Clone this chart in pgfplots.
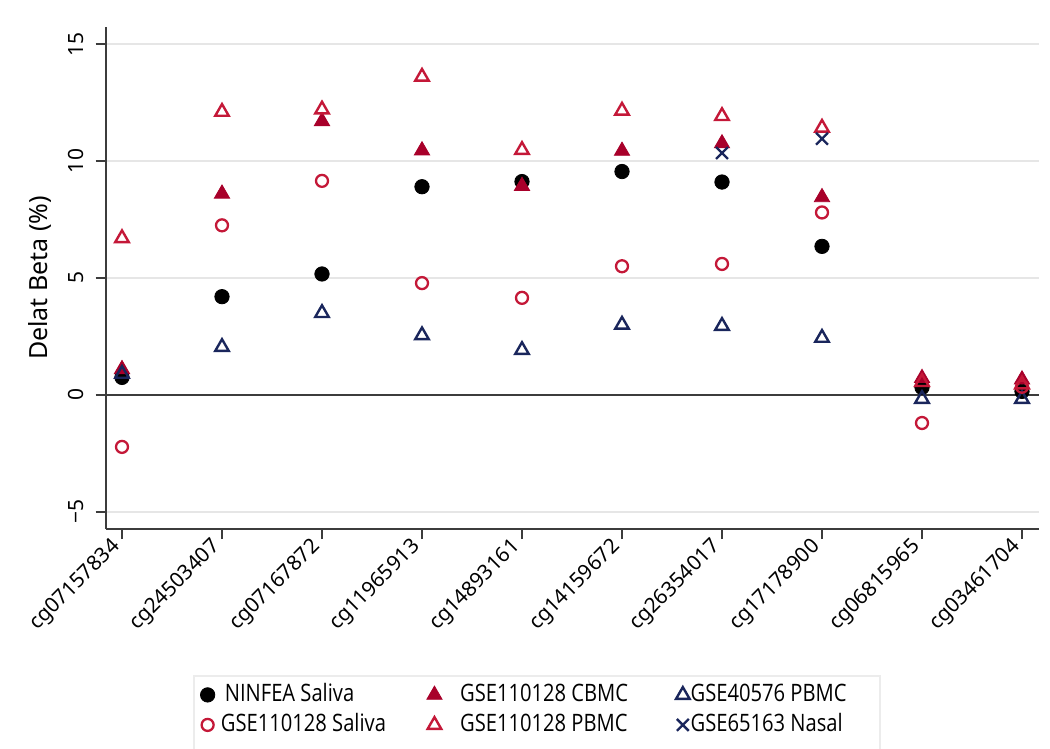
\documentclass[border=0pt]{standalone}
\usepackage{fontspec}
\setmainfont{Noto Sans}
\newfontfamily\legfont[FakeStretch=0.84]{Open Sans}
\usepackage{pgfplots}
\pgfplotsset{compat=1.18}

\definecolor{cbred}{RGB}{168,0,42}
\definecolor{olred}{RGB}{196,24,56}
\definecolor{navyb}{RGB}{26,38,92}
\definecolor{gridg}{RGB}{230,230,230}
\definecolor{axisg}{RGB}{60,60,60}
\definecolor{boxg}{RGB}{236,236,236}

\begin{document}
\begin{tikzpicture}
\begin{axis}[
  name=ax,
  scale only axis,
  width=466.45pt, height=251.15pt,
  xmin=-0.163, xmax=9.166,
  ymin=-5.73, ymax=15.74,
  axis lines*=left,
  axis line style={axisg, line width=0.9pt},
  tick align=outside,
  major tick length=5pt,
  tick style={axisg, line width=0.9pt},
  xtick={0,...,9},
  xticklabels={cg07157834,cg24503407,cg07167872,cg11965913,cg14893161,
               cg14159672,cg26354017,cg17178900,cg06815965,cg03461704},
  x tick label style={rotate=45, anchor=east, font=\fontsize{10.4}{12}\selectfont},
  ytick={-5,5,10,15},
  yticklabels={−5,5,10,15},
  extra y ticks={0},
  extra y tick labels={0},
  extra y tick style={ymajorgrids=true, grid style={axisg, line width=0.9pt}},
  y tick label style={rotate=90, anchor=south, inner ysep=6pt, font=\fontsize{10.5}{12}\selectfont},
  ymajorgrids,
  grid style={gridg, line width=0.9pt},
  ylabel={Delat Beta (\%)},
  every axis y label/.style={at={(rel axis cs:-0.0704,0.5)}, rotate=90, anchor=center,
                             font=\fontsize{12.5}{14}\selectfont},
  legend columns=3,
  legend cell align=left,
  legend style={at={(0.0947,-0.2927)}, anchor=north west, draw=none, fill=none,
                font=\legfont\fontsize{12}{14}\selectfont,
                inner xsep=3pt, inner ysep=3.7pt, row sep=3.9pt, column sep=0pt,
                nodes={inner xsep=0pt, inner ysep=0pt, text height=8.6pt, text depth=2.5pt}},
  legend image code/.code={\draw[mark repeat=2,mark phase=2,#1] plot coordinates {(0pt,0pt)(5pt,0pt)(10pt,0pt)};},
]

% NINFEA saliva
\addplot[only marks, mark=*, mark size=3.6pt, draw=black, fill=black] coordinates {
  (0,0.75) (1,4.2) (2,5.17) (3,8.9) (4,9.12) (5,9.55) (6,9.1) (7,6.35) (8,0.32) (9,0.15)};
\addlegendentry{\makebox[106pt][l]{\hspace*{5pt}NINFEA Saliva}}

% GSE110128 cord blood
\addplot[only marks, mark=triangle*, mark size=4.4pt, draw=cbred, fill=cbred] coordinates {
  (0,1.1) (1,8.6) (2,11.7) (3,10.45) (4,8.93) (5,10.43) (6,10.75) (7,8.45) (8,0.72) (9,0.66)};
\addlegendentry{\makebox[117pt][l]{\hspace*{9pt}GSE110128 CBMC}}

% GSE40576 PBMC
\addplot[only marks, mark=triangle, mark size=3.9pt, draw=navyb, line width=1.2pt] coordinates {
  (0,0.9) (1,2.05) (2,3.5) (3,2.55) (4,1.92) (5,3.0) (6,2.95) (7,2.44) (8,-0.17) (9,-0.17)};
\addlegendentry{\makebox[90pt][l]{\hspace*{0.5pt}GSE40576 PBMC}}

% GSE110128 saliva
\addplot[only marks, mark=o, mark size=3.0pt, draw=olred, line width=1.15pt] coordinates {
  (0,-2.22) (1,7.25) (2,9.15) (3,4.78) (4,4.15) (5,5.5) (6,5.6) (7,7.8) (8,-1.2) (9,0.35)};
\addlegendentry{\makebox[106pt][l]{\hspace*{3pt}GSE110128 Saliva}}

% GSE110128 PBMC
\addplot[only marks, mark=triangle, mark size=3.9pt, draw=olred, line width=1.2pt] coordinates {
  (0,6.7) (1,12.1) (2,12.2) (3,13.6) (4,10.47) (5,12.15) (6,11.92) (7,11.42) (8,0.55) (9,0.45)};
\addlegendentry{\makebox[117pt][l]{\hspace*{9pt}GSE110128 PBMC}}

% GSE65163 nasal
\addplot[only marks, mark=x, mark size=4.2pt, draw=navyb, line width=1.2pt] coordinates {
  (6,10.34) (7,10.95)};
\addlegendentry{\makebox[90pt][l]{\hspace*{0.5pt}GSE65163 Nasal}}

\end{axis}
% legend frame
\draw[boxg, line width=0.8pt] ([shift={(44.15pt,-73.5pt)}]ax.south west) rectangle ([shift={(387.15pt,-118pt)}]ax.south west);
\pgfresetboundingbox
\path[use as bounding box] ([shift={(-52.85pt,-110pt)}]ax.south west) rectangle ([shift={(472.15pt,264.5pt)}]ax.south west);
\end{tikzpicture}
\end{document}
